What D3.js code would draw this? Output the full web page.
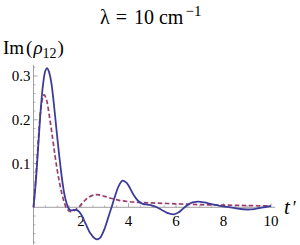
<!DOCTYPE html>
<html><head><meta charset="utf-8">
<script src="https://cdn.jsdelivr.net/npm/d3@7"></script>
<style>body{margin:0;background:#fff}svg{display:block}</style>
</head><body><svg id="c" width="300" height="245"></svg>
<script>
const solidT = [0,0.1,0.2,0.3,0.4,0.5,0.57,0.65,0.75,0.85,1.0,1.1,1.2,1.3,1.4,1.5,1.6,1.7,1.8,1.9,2.0,2.2,2.4,2.6,2.7,2.8,3.0,3.2,3.3,3.4,3.6,3.75,3.9,4.0,4.2,4.4,4.6,4.8,5.0,5.2,5.4,5.6,5.9,6.1,6.3,6.5,6.7,6.95,7.2,7.5,7.8,8.0,8.3,8.6,9.0,9.3,9.6,10];
const solidV = [0,0.06,0.14,0.22,0.28,0.312,0.318,0.31,0.285,0.24,0.16,0.11,0.065,0.03,0.008,-0.004,-0.007,-0.006,-0.006,-0.009,-0.016,-0.038,-0.06,-0.072,-0.073,-0.07,-0.048,-0.014,0.002,0.02,0.05,0.061,0.057,0.05,0.03,0.015,0.008,0.006,0.004,0.0,-0.006,-0.012,-0.016,-0.012,-0.003,0.006,0.011,0.013,0.011,0.007,0.004,0.002,0.0,-0.003,-0.005,-0.004,-0.001,0.003];
const dashT = [0,0.1,0.2,0.3,0.4,0.45,0.55,0.65,0.8,0.9,1.0,1.1,1.2,1.3,1.4,1.55,1.7,1.9,2.1,2.3,2.6,2.8,3.0,3.3,3.6,4.0,4.5,5.0,6.0,7.0,8.0,9.0,10];
const dashV = [0,0.07,0.15,0.22,0.253,0.257,0.245,0.215,0.16,0.12,0.085,0.055,0.03,0.01,-0.003,-0.01,-0.008,0.0,0.012,0.022,0.029,0.028,0.025,0.02,0.016,0.013,0.011,0.01,0.008,0.006,0.005,0.004,0.003];
const xTicks = [2,4,6,8,10];
const yTicks = [0.1,0.2,0.3];
const yTickLabels = ["0.1","0.2","0.3"];

const FONT = "Liberation Serif";
const svg = d3.select("#c").attr("font-family", FONT);
const x = d3.scaleLinear().domain([0,10]).range([33.5,271]);
const y = d3.scaleLinear().domain([0,0.3]).range([207.3,76]);
const xMax = 10.17, yMin = -0.085, yMax = 0.325;
const axisCol = "#888";

svg.append("line").attr("x1",x(0)).attr("x2",x(xMax)).attr("y1",y(0)).attr("y2",y(0)).attr("stroke",axisCol).attr("stroke-width",0.8);
svg.append("line").attr("x1",x(0)).attr("x2",x(0)).attr("y1",y(yMin)).attr("y2",y(yMax)).attr("stroke",axisCol).attr("stroke-width",0.8);

const xMinor = d3.range(0.5,10.01,0.5).filter(v=>Math.abs(v/2-Math.round(v/2))>1e-6);
svg.selectAll(".xm").data(xMinor).enter().append("line").attr("x1",d=>x(d)).attr("x2",d=>x(d)).attr("y1",y(0)).attr("y2",y(0)-2).attr("stroke",axisCol).attr("stroke-width",0.6);
svg.selectAll(".xM").data(xTicks).enter().append("line").attr("x1",d=>x(d)).attr("x2",d=>x(d)).attr("y1",y(0)).attr("y2",y(0)-4).attr("stroke",axisCol).attr("stroke-width",0.7);
svg.selectAll(".xl").data(xTicks).enter().append("text").attr("x",d=>x(d)).attr("y",y(0)+19).attr("text-anchor","middle").attr("font-size",15).attr("font-family",FONT).text(d=>d);

const yMinor = d3.range(-0.08,0.321,0.02).filter(v=>Math.abs(v*10-Math.round(v*10))>1e-6);
svg.selectAll(".ym").data(yMinor).enter().append("line").attr("x1",x(0)).attr("x2",x(0)+2).attr("y1",d=>y(d)).attr("y2",d=>y(d)).attr("stroke",axisCol).attr("stroke-width",0.6);
svg.selectAll(".yM").data(yTicks).enter().append("line").attr("x1",x(0)).attr("x2",x(0)+4).attr("y1",d=>y(d)).attr("y2",d=>y(d)).attr("stroke",axisCol).attr("stroke-width",0.7);
svg.selectAll(".yl").data(yTicks).enter().append("text").attr("x",x(0)-3).attr("y",d=>y(d)+5).attr("text-anchor","end").attr("font-size",15).attr("font-family",FONT).text((d,i)=>yTickLabels[i]);

const line = d3.line().x(d=>x(d[0])).y(d=>y(d[1])).curve(d3.curveCatmullRom.alpha(0.5));
svg.append("path").attr("d",line(dashT.map((t,i)=>[t,dashV[i]]))).attr("fill","none").attr("stroke","#993d71").attr("stroke-width",1.7).attr("stroke-dasharray","4.5,2.5");
svg.append("path").attr("d",line(solidT.map((t,i)=>[t,solidV[i]]))).attr("fill","none").attr("stroke","#3d3d99").attr("stroke-width",1.8);

const title = svg.append("text").attr("x",100).attr("y",24).attr("font-size",20).attr("font-family",FONT);
title.append("tspan").text("λ");
title.append("tspan").attr("dx",6).text("=");
title.append("tspan").attr("dx",7).text("10");
title.append("tspan").attr("dx",5).text("cm");
title.append("tspan").attr("dx",2).attr("dy",-8).attr("font-size",15).text("−1");
const yl = svg.append("text").attr("x",3).attr("y",54).attr("font-size",19).attr("font-family",FONT);
yl.append("tspan").text("Im");
yl.append("tspan").attr("dx",2).text("(");
yl.append("tspan").attr("dx",1).attr("font-style","italic").text("ρ");
yl.append("tspan").attr("dy",4).attr("font-size",14).text("12");
yl.append("tspan").attr("dx",1).attr("dy",-4).text(")");
const tl = svg.append("text").attr("x",284).attr("y",214).attr("font-size",21).attr("font-family",FONT);
tl.append("tspan").attr("font-style","italic").text("t");
tl.append("tspan").attr("dx",3).attr("font-size",18).text("′");
</script></body></html>
